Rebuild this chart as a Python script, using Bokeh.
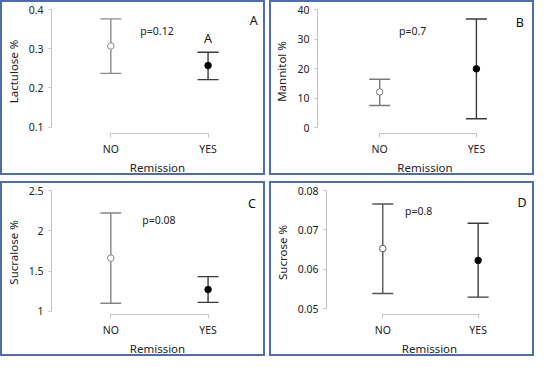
from bokeh.plotting import figure
from bokeh.layouts import column, row
from bokeh.models import FixedTicker, Range1d
from bokeh.core.properties import value
from bokeh.embed import file_html
from bokeh.resources import INLINE

# ---- data ----
groups = ["NO", "YES"]
group_x = [1, 2]

lact_mean = [0.307, 0.257]
lact_upper = [0.376, 0.291]
lact_lower = [0.237, 0.221]

mann_mean = [12.1, 19.9]
mann_upper = [16.4, 36.8]
mann_lower = [7.5, 3.0]

sucl_mean = [1.66, 1.27]
sucl_upper = [2.22, 1.43]
sucl_lower = [1.10, 1.11]

sucr_mean = [0.0653, 0.0623]
sucr_upper = [0.0766, 0.0717]
sucr_lower = [0.0539, 0.0530]

lact_ticks = [0.1, 0.2, 0.3, 0.4]
mann_ticks = [0, 10, 20, 30, 40]
sucl_ticks = [1, 1.5, 2, 2.5]
sucr_ticks = [0.05, 0.06, 0.07, 0.08]

p_values = ["p=0.12", "p=0.7", "p=0.08", "p=0.8"]
panel_letters = ["A", "B", "C", "D"]

FONT = "Noto Sans"
BORDER = "#4f6daa"
W, H = 265, 175


def panel(ylabel, mean, upper, lower, yticks, yrange, xrange, ptext, ppos,
          letter, lpos, no_color, left, extra=None):
    p = figure(width=W, height=H, x_range=Range1d(*xrange), y_range=Range1d(*yrange),
               output_backend="svg", toolbar_location=None,
               min_border_left=left, min_border_right=4, min_border_top=7,
               min_border_bottom=34)
    p.styles = {"border": f"2px solid {BORDER}"}
    p.grid.visible = False
    p.outline_line_color = None
    p.background_fill_color = "white"
    p.border_fill_color = "white"

    # y axis
    ya = p.yaxis[0]
    ya.ticker = FixedTicker(ticks=yticks)
    ya.bounds = (yticks[0], yticks[-1])
    ya.axis_label = ylabel
    ya.axis_line_color = "#c4c4c4"
    ya.major_tick_line_color = "#c4c4c4"
    ya.major_tick_out = 3
    ya.major_tick_in = 0
    ya.minor_tick_line_color = None
    ya.major_label_standoff = 5
    ya.axis_label_standoff = 5
    ya.major_label_text_font = FONT
    ya.major_label_text_font_size = "10.5px"
    ya.major_label_text_color = "#222222"
    ya.axis_label_text_font = FONT
    ya.axis_label_text_font_size = "11.5px"
    ya.axis_label_text_font_style = "normal"
    ya.axis_label_text_color = "#222222"

    # x axis
    xa = p.xaxis[0]
    xa.ticker = FixedTicker(ticks=group_x)
    xa.major_label_overrides = {gx: g for gx, g in zip(group_x, groups)}
    xa.bounds = (group_x[0], group_x[-1])
    xa.axis_label = "Remission"
    xa.axis_line_color = "#c4c4c4"
    xa.major_tick_line_color = "#c4c4c4"
    xa.major_tick_out = 4
    xa.major_tick_in = 0
    xa.minor_tick_line_color = None
    xa.major_label_standoff = 4
    xa.axis_label_standoff = 1
    xa.major_label_text_font = FONT
    xa.major_label_text_font_size = "10.5px"
    xa.major_label_text_color = "#222222"
    xa.axis_label_text_font = FONT
    xa.axis_label_text_font_size = "11.5px"
    xa.axis_label_text_font_style = "normal"
    xa.axis_label_text_color = "#222222"

    colors = [no_color, "#3a3a3a"]
    fills = ["white", "black"]
    for i in range(2):
        p.segment(x0=[group_x[i]], y0=[lower[i]], x1=[group_x[i]], y1=[upper[i]],
                  line_color=colors[i], line_width=1.4)
        p.scatter(x=[group_x[i], group_x[i]], y=[lower[i], upper[i]], marker="dash",
                  size=21, line_color=colors[i], line_width=1.4)
        p.scatter(x=[group_x[i]], y=[mean[i]], marker="circle", size=6.5,
                  fill_color=fills[i], line_color=colors[i] if i == 0 else "black",
                  line_width=1)

    p.text(x=[ppos[0]], y=[ppos[1]], text=[ptext], text_font=value(FONT),
           text_font_size="10.5px", text_align="center", text_baseline="middle",
           text_color="#222222")
    p.text(x=[lpos[0]], y=[lpos[1]], text=[letter], text_font=value(FONT),
           text_font_size="12.5px", text_align="center", text_baseline="middle",
           text_color="#111111")
    if extra is not None:
        p.text(x=[extra[0]], y=[extra[1]], text=[extra[2]], text_font=value(FONT),
               text_font_size="12.5px", text_align="center", text_baseline="middle",
               text_color="#111111")
    return p


pA = panel("Lactulose %", lact_mean, lact_upper, lact_lower, lact_ticks,
           (0.0836, 0.4), (0.39, 2.57), p_values[0], (1.475, 0.346),
           panel_letters[0], (2.47, 0.372), "#8a8a8a", 47, extra=(2, 0.327, "A"))
pB = panel("Mannitol %", mann_mean, mann_upper, mann_lower, mann_ticks,
           (-2.0, 40), (0.357, 2.58), p_values[1], (1.34, 32.8),
           panel_letters[1], (2.45, 35.5), "#7a7a7a", 38)
pC = panel("Sucralose %", sucl_mean, sucl_upper, sucl_lower, sucl_ticks,
           (0.96, 2.5), (0.39, 2.57), p_values[2], (1.495, 2.135),
           panel_letters[2], (2.45, 2.34), "#858585", 46)
pD = panel("Sucrose %", sucr_mean, sucr_upper, sucr_lower, sucr_ticks,
           (0.0486, 0.08), (0.41, 2.57), p_values[3], (1.377, 0.0747),
           panel_letters[3], (2.46, 0.0770), "#555555", 51)

layout = column(row(pA, pB, spacing=4), row(pC, pD, spacing=4), spacing=6)

open("out.html", "w").write(file_html(layout, INLINE))
